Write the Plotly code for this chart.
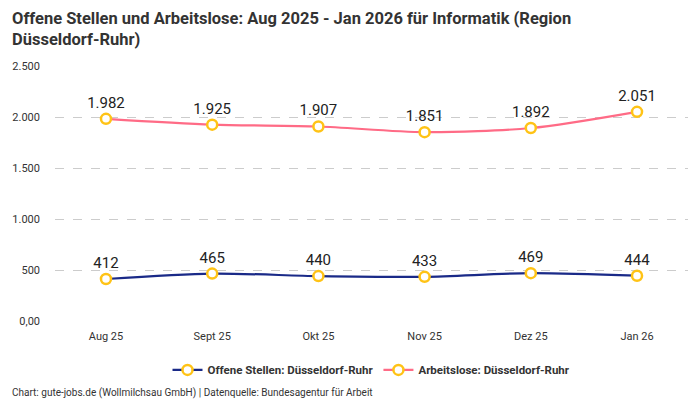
import plotly.graph_objects as go

# Daten (Bundesagentur fuer Arbeit, Informatik, Region Duesseldorf-Ruhr)
months = ["Aug 25", "Sept 25", "Okt 25", "Nov 25", "Dez 25", "Jan 26"]
offene_stellen = [412, 465, 440, 433, 469, 444]
arbeitslose = [1982, 1925, 1907, 1851, 1892, 2051]

y_ticks = [0, 500, 1000, 1500, 2000, 2500]
y_tick_labels = ["0,00", "500", "1.000", "1.500", "2.000", "2.500"]

FONT = "Roboto"
TXT = "#333333"


def fmt(v):
    return f"{v:,}".replace(",", ".")


def make_trace(values, name, color):
    return go.Scatter(
        x=list(range(len(months))),
        y=values,
        name=name,
        mode="lines+markers+text",
        line=dict(color=color, width=2.2, shape="spline", smoothing=0.8),
        marker=dict(size=10, color="white", line=dict(color="#FFC316", width=2.5)),
        text=[fmt(v) for v in values],
        textposition="top center",
        textfont=dict(size=15, color="#222222", family=FONT),
        cliponaxis=False,
    )


fig = go.Figure()
fig.add_trace(make_trace(offene_stellen, "Offene Stellen: Düsseldorf-Ruhr", "#1A2A88"))
fig.add_trace(make_trace(arbeitslose, "Arbeitslose: Düsseldorf-Ruhr", "#FF6B86"))

# die Seite hat 8px Rand -> Figur um 8px kleiner
fig.update_layout(
    width=692,
    height=392,
    paper_bgcolor="white",
    plot_bgcolor="white",
    font=dict(family=FONT, color=TXT),
    margin=dict(l=47, r=12, t=58, b=79, autoexpand=False),
    legend=dict(
        orientation="h",
        x=0.5,
        xanchor="center",
        y=-0.135,
        yanchor="top",
        font=dict(size=11.5, color=TXT, family=FONT, weight="bold"),
    ),
    showlegend=True,
)

fig.update_xaxes(
    tickvals=list(range(len(months))),
    ticktext=months,
    range=[-0.48, 5.48],
    showgrid=False,
    zeroline=False,
    showline=False,
    tickfont=dict(size=11, color=TXT),
    ticks="",
    ticklabelstandoff=7,
)
fig.update_yaxes(
    range=[0, 2500],
    tickvals=y_ticks,
    ticktext=y_tick_labels,
    showgrid=True,
    gridcolor="#cccccc",
    griddash="dash",
    gridwidth=1,
    zeroline=False,
    tickfont=dict(size=11, color=TXT),
    ticklabelstandoff=14,
)

# Titel als Annotation, damit er genau oben links sitzt
fig.add_annotation(
    text="<b>Offene Stellen und Arbeitslose: Aug 2025 - Jan 2026 für Informatik (Region<br>Düsseldorf-Ruhr)</b>",
    xref="paper",
    yref="paper",
    x=-0.071,
    xanchor="left",
    y=1.232,
    yanchor="top",
    align="left",
    showarrow=False,
    font=dict(size=16.5, color=TXT, family=FONT),
)

fig.add_annotation(
    text="Chart: gute-jobs.de (Wollmilchsau GmbH) | Datenquelle: Bundesagentur für Arbeit",
    xref="paper",
    yref="paper",
    x=-0.071,
    xanchor="left",
    y=-0.282,
    yanchor="middle",
    showarrow=False,
    font=dict(size=10, color=TXT),
)

fig.write_html("out.html")
